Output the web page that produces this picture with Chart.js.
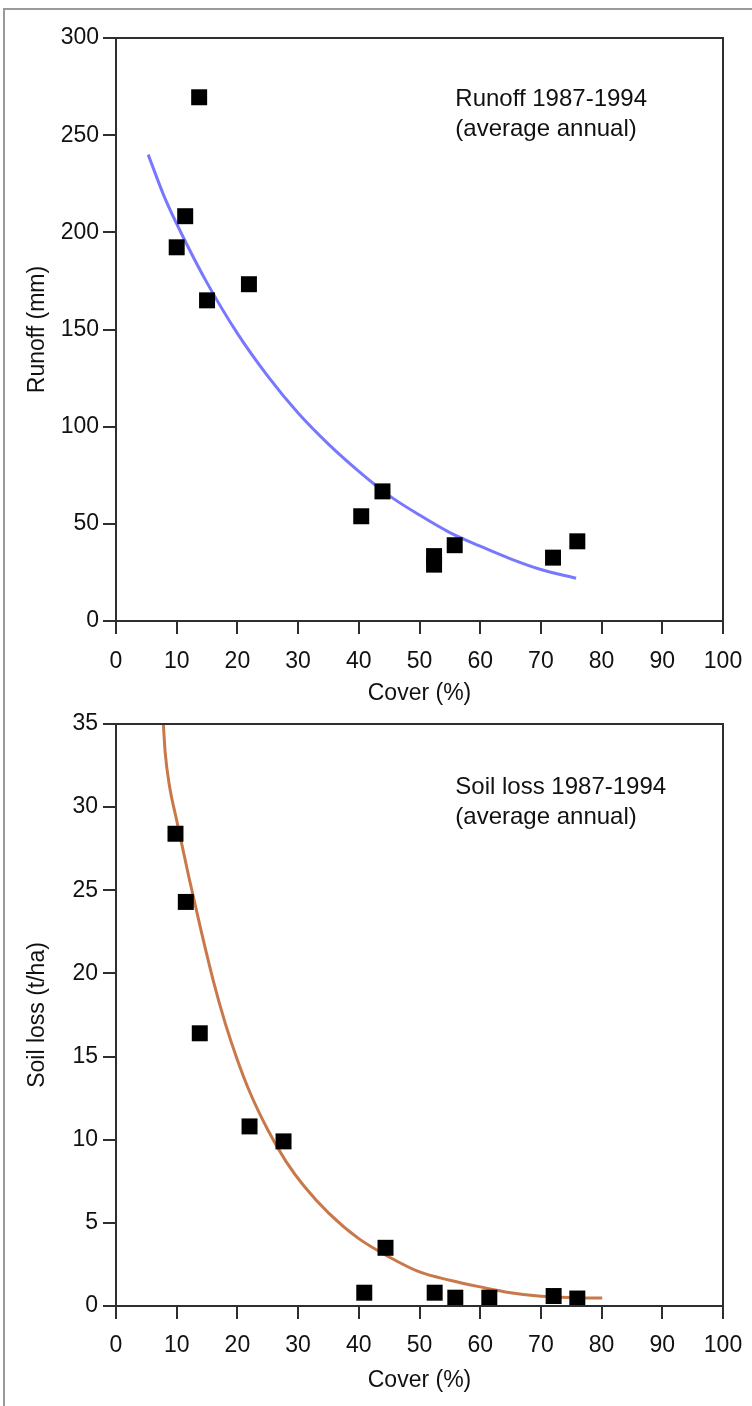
<!DOCTYPE html>
<html><head><meta charset="utf-8">
<script src="https://cdn.jsdelivr.net/npm/chart.js@4.4.1/dist/chart.umd.min.js"></script>
<style>
html,body{margin:0;padding:0;background:#fff;}
body{width:752px;height:1406px;position:relative;overflow:hidden;}
#frame{position:absolute;left:3px;top:8px;width:900px;height:1500px;border-left:2px solid #9a9a9a;border-top:2px solid #9a9a9a;}
.box{position:absolute;left:0;width:752px;}
#c1box{top:0;height:710px;}
#c2box{top:710px;height:696px;}
</style></head><body>
<div id="frame"></div>
<div class="box" id="c1box"><canvas id="c1" width="752" height="710"></canvas></div>
<div class="box" id="c2box"><canvas id="c2" width="752" height="696"></canvas></div>
<script>
// ---- Data ----
const xTitleText = 'Cover (%)';
const runoffCover = [13.7, 11.4, 10.0, 15.0, 21.9, 40.4, 43.9, 52.4, 52.4, 55.8, 72.0, 76.0];
const runoffMm    = [269.5, 208.3, 192.3, 165.0, 173.3, 53.9, 66.7, 33.4, 29.0, 39.0, 32.6, 41.0];
const runoffFitCover = [5.3, 8, 11, 15, 20, 25, 30, 35, 40, 45, 50, 55, 60, 65, 70, 75.8];
const runoffFitMm    = [240, 218, 198, 174, 148, 126, 107, 91, 77, 64.5, 54.5, 45.5, 38.5, 32, 26.5, 22];

const soilCover = [9.8, 11.5, 13.8, 22.0, 27.6, 40.9, 44.4, 52.5, 55.9, 61.5, 72.1, 76.0];
const soilLoss  = [28.4, 24.3, 16.4, 10.8, 9.9, 0.8, 3.5, 0.8, 0.5, 0.5, 0.6, 0.45];
const soilFitCover = [7.8, 8.1, 8.8, 10, 12, 14, 16, 18, 20, 22, 25, 28, 31, 35, 40, 45, 50, 55, 60, 65, 70, 75, 80.1];
const soilFitLoss  = [35, 33.3, 31.3, 29.2, 25.8, 22.6, 19.6, 17, 14.8, 12.9, 10.6, 8.7, 7.2, 5.6, 4.05, 2.95, 2.05, 1.55, 1.15, 0.8, 0.58, 0.5, 0.48];

const runoffNote = ['Runoff 1987-1994', '(average annual)'];
const soilNote = ['Soil loss 1987-1994', '(average annual)'];

// ---- Styling ----
const FONT = "'Liberation Sans', Arial, Helvetica, sans-serif";
const INK = '#2e2e2e';
const TXT = '#111111';

const toXY = (xs, ys) => xs.map((v, i) => ({x: v, y: ys[i]}));

const frameBox = {
  id: 'frameBox',
  afterDraw(chart) {
    const {ctx, chartArea: a} = chart;
    ctx.save();
    ctx.strokeStyle = INK;
    ctx.lineWidth = 2;
    ctx.strokeRect(Math.round(a.left), Math.round(a.top), Math.round(a.right - a.left), Math.round(a.bottom - a.top));
    ctx.restore();
  }
};

const noteText = {
  id: 'noteText',
  afterDraw(chart, args, opts) {
    const {ctx, scales: {x, y}} = chart;
    ctx.save();
    ctx.font = '24px ' + FONT;
    ctx.fillStyle = TXT;
    ctx.textAlign = 'left';
    ctx.textBaseline = 'middle';
    const px = x.getPixelForValue(opts.x);
    const py = y.getPixelForValue(opts.y);
    opts.lines.forEach((t, i) => ctx.fillText(t, px, py + i * opts.gap));
    ctx.restore();
  }
};

function makeChart(id, cfg) {
  return new Chart(document.getElementById(id), {
    type: 'scatter',
    data: {
      datasets: [
        {data: toXY(cfg.px, cfg.py), pointStyle: 'rect', pointRadius: 11.3, pointHoverRadius: 11.3,
         pointBackgroundColor: '#000', pointBorderWidth: 0, showLine: false, order: 0},
        {data: toXY(cfg.fx, cfg.fy), showLine: true, borderColor: cfg.color, borderWidth: 3,
         pointRadius: 0, fill: false, cubicInterpolationMode: 'monotone', order: 1, clip: 4}
      ]
    },
    options: {
      responsive: false,
      animation: false,
      layout: {padding: {left: 0, top: cfg.padTop, right: 29, bottom: 0}},
      plugins: {legend: {display: false}, tooltip: {enabled: false},
                noteText: {x: cfg.noteX, y: cfg.noteY, lines: cfg.note, gap: 30}},
      scales: {
        x: {
          type: 'linear', min: 0, max: 100,
          ticks: {stepSize: 10, color: TXT, font: {family: FONT, size: 23}, padding: cfg.xPad, maxRotation: 0, autoSkip: false},
          grid: {drawOnChartArea: false, drawTicks: true, tickLength: 13, color: INK, lineWidth: 2},
          border: {display: true, color: INK, width: 2},
          title: {display: true, text: xTitleText, color: TXT, font: {family: FONT, size: 23}, padding: {top: 0, bottom: cfg.xTitlePad}},
          afterFit(s) { s.height = cfg.xHeight; s.paddingLeft = 0; s.paddingRight = 0; s.paddingTop = 0; s.paddingBottom = 0; }
        },
        y: {
          type: 'linear', min: 0, max: cfg.yMax,
          ticks: {stepSize: cfg.yStep, color: TXT, font: {family: FONT, size: 23}, padding: cfg.yPad, autoSkip: false},
          grid: {drawOnChartArea: false, drawTicks: true, tickLength: 13, color: INK, lineWidth: 2},
          border: {display: true, color: INK, width: 2},
          title: {display: true, text: cfg.yTitle, color: TXT, font: {family: FONT, size: 23}, padding: {top: 24, bottom: 0}},
          afterFit(s) { s.width = 116; s.paddingLeft = 0; s.paddingRight = 0; s.paddingTop = 0; s.paddingBottom = 0; }
        }
      }
    },
    plugins: [frameBox, noteText]
  });
}

makeChart('c1', {
  px: runoffCover, py: runoffMm, fx: runoffFitCover, fy: runoffFitMm, color: '#7878ff',
  padTop: 38, xHeight: 89, xPad: 14, xTitlePad: 3, yMax: 300, yStep: 50, yPad: 4, yTitle: 'Runoff (mm)',
  noteX: 55.9, noteY: 268.5, note: runoffNote
});
makeChart('c2', {
  px: soilCover, py: soilLoss, fx: soilFitCover, fy: soilFitLoss, color: '#c8784a',
  padTop: 14, xHeight: 100, xPad: 13, xTitlePad: 12, yMax: 35, yStep: 5, yPad: 5, yTitle: 'Soil loss (t/ha)',
  noteX: 55.9, noteY: 31.2, note: soilNote
});
</script>
</body></html>
